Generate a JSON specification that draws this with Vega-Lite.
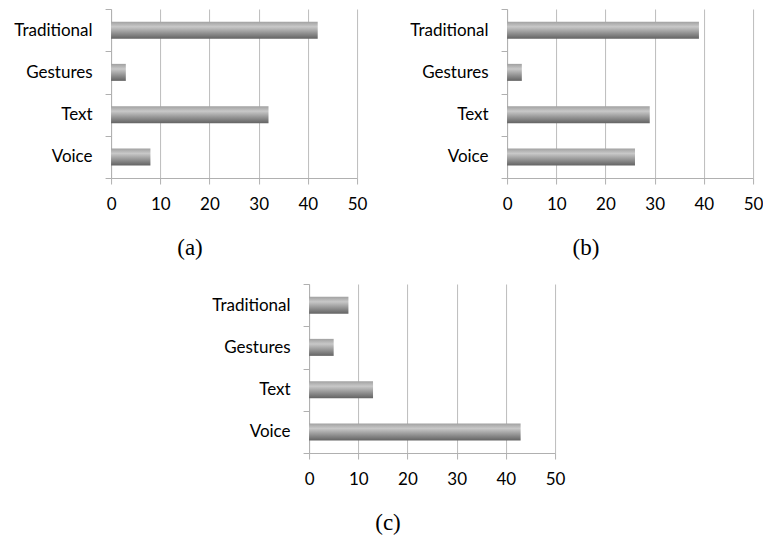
{
  "$schema": "https://vega.github.io/schema/vega-lite/v6.json",
  "padding": {"left": 13, "top": 0, "right": 0, "bottom": 0},
  "background": "white",
  "config": {
    "view": {"stroke": null},
    "axis": {"labelFont": "Lato", "labelFontSize": 17, "labelColor": "#000000", "domainColor": "#b0b0b0", "tickColor": "#b0b0b0", "gridColor": "#bcbcbc", "title": null},
    "title": {"font": "Liberation Serif", "fontSize": 23, "fontWeight": "normal", "color": "#000000", "orient": "bottom", "frame": "bounds", "anchor": "middle", "offset": 25}
  },
  "datasets": {
    "a": [
      {"mode": "Traditional", "value": 42},
      {"mode": "Gestures", "value": 3},
      {"mode": "Text", "value": 32},
      {"mode": "Voice", "value": 8}
    ],
    "b": [
      {"mode": "Traditional", "value": 39},
      {"mode": "Gestures", "value": 3},
      {"mode": "Text", "value": 29},
      {"mode": "Voice", "value": 26}
    ],
    "c": [
      {"mode": "Traditional", "value": 8},
      {"mode": "Gestures", "value": 5},
      {"mode": "Text", "value": 13},
      {"mode": "Voice", "value": 43}
    ]
  },
  "center": true,
  "spacing": 15,
  "vconcat": [
    {
      "spacing": 42,
      "hconcat": [
        {
          "data": {"name": "a"},
          "width": 246, "height": 169,
          "title": {"text": "(a)"},
          "mark": {"type": "bar", "height": 17, "color": {"gradient": "linear", "x1": 0, "y1": 0, "x2": 0, "y2": 1, "stops": [{"offset": 0, "color": "#a0a0a0"}, {"offset": 0.3, "color": "#c8c8c8"}, {"offset": 0.75, "color": "#878787"}, {"offset": 1, "color": "#646464"}]}},
          "encoding": {
            "y": {"field": "mode", "type": "nominal", "sort": ["Traditional", "Gestures", "Text", "Voice"], "scale": {"paddingInner": 0, "paddingOuter": 0}, "axis": {"tickBand": "extent", "labelPadding": 13, "tickSize": 6, "minExtent": 98, "maxExtent": 98, "grid": false}},
            "x": {"field": "value", "type": "quantitative", "scale": {"domain": [0, 50], "nice": false}, "axis": {"values": [0, 10, 20, 30, 40, 50], "grid": true, "tickSize": 6, "labelPadding": 12, "labelFlush": false}}
          }
        },
        {
          "data": {"name": "b"},
          "width": 246, "height": 169,
          "title": {"text": "(b)"},
          "mark": {"type": "bar", "height": 17, "color": {"gradient": "linear", "x1": 0, "y1": 0, "x2": 0, "y2": 1, "stops": [{"offset": 0, "color": "#a0a0a0"}, {"offset": 0.3, "color": "#c8c8c8"}, {"offset": 0.75, "color": "#878787"}, {"offset": 1, "color": "#646464"}]}},
          "encoding": {
            "y": {"field": "mode", "type": "nominal", "sort": ["Traditional", "Gestures", "Text", "Voice"], "scale": {"paddingInner": 0, "paddingOuter": 0}, "axis": {"tickBand": "extent", "labelPadding": 13, "tickSize": 6, "minExtent": 98, "maxExtent": 98, "grid": false}},
            "x": {"field": "value", "type": "quantitative", "scale": {"domain": [0, 50], "nice": false}, "axis": {"values": [0, 10, 20, 30, 40, 50], "grid": true, "tickSize": 6, "labelPadding": 12, "labelFlush": false}}
          }
        }
      ]
    },
    {
      "data": {"name": "c"},
      "width": 246, "height": 169,
      "title": {"text": "(c)"},
      "mark": {"type": "bar", "height": 17, "color": {"gradient": "linear", "x1": 0, "y1": 0, "x2": 0, "y2": 1, "stops": [{"offset": 0, "color": "#a0a0a0"}, {"offset": 0.3, "color": "#c8c8c8"}, {"offset": 0.75, "color": "#878787"}, {"offset": 1, "color": "#646464"}]}},
      "encoding": {
        "y": {"field": "mode", "type": "nominal", "sort": ["Traditional", "Gestures", "Text", "Voice"], "scale": {"paddingInner": 0, "paddingOuter": 0}, "axis": {"tickBand": "extent", "labelPadding": 13, "tickSize": 6, "minExtent": 98, "maxExtent": 98, "grid": false}},
        "x": {"field": "value", "type": "quantitative", "scale": {"domain": [0, 50], "nice": false}, "axis": {"values": [0, 10, 20, 30, 40, 50], "grid": true, "tickSize": 6, "labelPadding": 12, "labelFlush": false}}
      }
    }
  ]
}
